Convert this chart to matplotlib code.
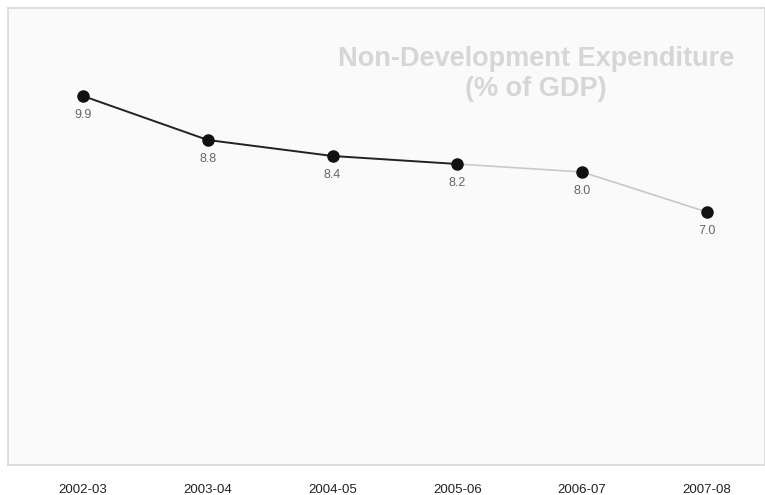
import matplotlib
matplotlib.use("Agg")
import matplotlib.pyplot as plt

years = ["2002-03", "2003-04", "2004-05", "2005-06", "2006-07", "2007-08"]
values = [9.9, 8.8, 8.4, 8.2, 8.0, 7.0]
title_lines = ["Non-Development Expenditure", "(% of GDP)"]

plt.rcParams["font.family"] = ["Liberation Sans", "DejaVu Sans"]

fig = plt.figure(figsize=(7.65, 4.95), dpi=100)
fig.patch.set_facecolor("white")
ax = fig.add_axes([8 / 765, 30 / 495, 1 - 8 / 765, 457 / 495])
ax.set_facecolor("#fafafa")

x = list(range(len(years)))

# darker line for the first years, lighter for the later ones
ax.plot(x[:4], values[:4], color="#222222", lw=1.4, zorder=2)
ax.plot(x[3:], values[3:], color="#c8c8c8", lw=1.2, zorder=1)
ax.plot(x, values, "o", color="#111111", ms=8, zorder=3)

for xi, v in zip(x, values):
    ax.annotate(f"{v:.1f}", (xi, v), xytext=(0, -14), textcoords="offset points",
                ha="center", va="center", fontsize=9, color="#666666")

ax.text(0.697, 0.855, "\n".join(title_lines), transform=ax.transAxes,
        ha="center", va="center", fontsize=19.5, fontweight="bold",
        color="#d6d6d6", linespacing=1.2)

ax.set_xlim(-0.601, 5.465)
ax.set_ylim(0.675, 12.1)
ax.set_xticks(x)
ax.set_xticklabels(years, fontsize=9.5, color="#222222")
ax.set_yticks([])
ax.tick_params(axis="x", length=0, pad=14)
for side, sp in ax.spines.items():
    sp.set_color("#d8d8d8")
    sp.set_linewidth(1.2)

fig.savefig("out.png", dpi=100)
